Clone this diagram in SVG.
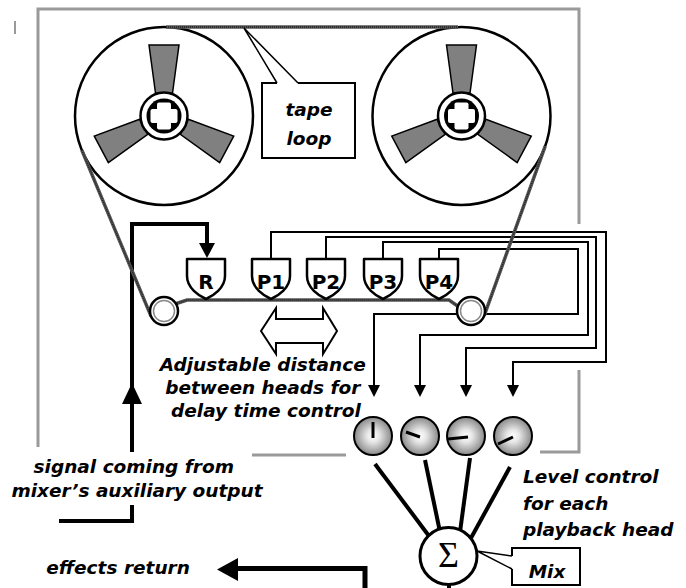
<svg xmlns="http://www.w3.org/2000/svg" width="686" height="588" viewBox="0 0 686 588">
  <style>
    .frame { fill: none; stroke: #9a9a9a; stroke-width: 3; }
    .reel { fill: #fff; stroke: #000; stroke-width: 2.5; }
    .spoke { fill: #808080; stroke: #000; stroke-width: 1.5; stroke-linejoin: miter; }
    .hub { fill: #fff; stroke: #000; stroke-width: 2.5; }
    .tape { fill: none; stroke: #555; stroke-width: 3.5; }
    .tape-grain { fill: none; stroke: #222; stroke-width: 1.5; stroke-dasharray: 1 1; }
    .roller { fill: #fff; stroke: #000; stroke-width: 2.5; }
    .roller-in { fill: none; stroke: #8a8a8a; stroke-width: 1.5; }
    .head { fill: #fff; stroke: #000; stroke-width: 2.5; stroke-linejoin: round; }
    .headtxt { font-family: "DejaVu Sans", sans-serif; font-weight: bold; font-size: 20px; text-anchor: middle; fill: #000; }
    .wire { fill: none; stroke: #000; stroke-width: 2; }
    .thick { fill: none; stroke: #000; stroke-width: 4; }
    .knob { fill: url(#knobFill); stroke: #000; stroke-width: 2; }
    .needle { stroke: #000; stroke-width: 3; stroke-linecap: butt; }
    .box { fill: #fff; stroke: #000; stroke-width: 2; }
    .callout { fill: none; stroke: #000; stroke-width: 1.5; }
    .lbl { font-family: "DejaVu Sans", "Liberation Sans", sans-serif; font-weight: bold; font-style: italic; font-size: 18.5px; fill: #000; }
  </style>
  <defs>
    <radialGradient id="knobFill" cx="50%" cy="50%" r="55%">
      <stop offset="0" stop-color="#ffffff"/>
      <stop offset="0.3" stop-color="#e6e6e6"/>
      <stop offset="1" stop-color="#7a7a7a"/>
    </radialGradient>
    <marker id="wireArrow" markerUnits="userSpaceOnUse" markerWidth="12" markerHeight="12" viewBox="0 0 12 12" refX="0" refY="6" orient="auto">
      <path d="M0,0 L12,6 L0,12 Z" fill="#000"/>
    </marker>
    <polygon id="spoke" class="spoke" points="-8.5,-23 -15,-71 15,-71 8.5,-23"/>
    <g id="reelBody">
      <circle class="reel" r="89"/>
      <use href="#spoke"/>
      <use href="#spoke" transform="rotate(118)"/>
      <use href="#spoke" transform="rotate(242)"/>
      <circle class="hub" r="23.5"/>
      <circle r="17.5" fill="#000"/>
      <rect x="-13.5" y="-7" width="27" height="14" rx="2" fill="#fff"/>
      <rect x="-7" y="-13.5" width="14" height="27" rx="2" fill="#fff"/>
    </g>
    <path id="headShape" class="head" d="M0,0 H38 V17 C38,29 26,37 19,40 C12,37 0,29 0,17 Z"/>
    <path id="tapeRun" d="M166,27 H458 M81.8,150.2 L151.1,316.4 M175,304 L187,300 H449 L459,307 M484.2,315.7 L545.2,146.2"/>
  </defs>

  <rect width="686" height="588" fill="#fff"/>

  <!-- housing outline -->
  <g id="housing">
    <path class="frame" d="M38,447 V9 H579 V224 M579,370 V452 H540 M346,455 H252"/>
    <line x1="15" y1="21" x2="15" y2="34" stroke="#9a9a9a" stroke-width="2"/>
  </g>

  <!-- reels -->
  <g id="reel-left"><use href="#reelBody" transform="translate(164,116)"/></g>
  <g id="reel-right"><use href="#reelBody" transform="translate(461.5,116)"/></g>

  <!-- connectors -->
  <g id="connectors">
    <!-- record input -->
    <path class="thick" d="M59,521 H132 V505"/>
    <path class="thick" d="M132,452 V224 H207 V246"/>
    <polygon points="199,243 215,243 207,258" fill="#000"/>
    <polygon points="122,404 142,404 132,383" fill="#000"/>
    <!-- playback heads to level controls -->
    <path class="wire" d="M271,259 V232 H606 V362 H513 V385" marker-end="url(#wireArrow)"/>
    <path class="wire" d="M326,259 V237 H596 V348 H466 V385" marker-end="url(#wireArrow)"/>
    <path class="wire" d="M383,259 V242 H588 V335 H420 V385" marker-end="url(#wireArrow)"/>
    <path class="wire" d="M439,259 V249 H578 V314 H374 V385" marker-end="url(#wireArrow)"/>
    <!-- level controls to mixer -->
    <line class="thick" x1="375" y1="464" x2="429" y2="536" stroke-width="3.5"/>
    <line class="thick" x1="425" y1="460" x2="440" y2="532" stroke-width="3.5"/>
    <line class="thick" x1="470" y1="458" x2="460" y2="532" stroke-width="3.5"/>
    <line class="thick" x1="510" y1="467" x2="471" y2="538" stroke-width="3.5"/>
    <!-- mixer output / effects return -->
    <line class="thick" x1="449" y1="583" x2="449" y2="588"/>
    <path d="M236,568.5 H365 V588" fill="none" stroke="#000" stroke-width="5"/>
    <polygon points="238,558 238,581 217,569.5" fill="#000"/>
  </g>

  <!-- tape path -->
  <g id="tape">
    <use href="#tapeRun" class="tape"/>
    <use href="#tapeRun" class="tape-grain"/>
  </g>

  <!-- guide rollers -->
  <g id="roller-left">
    <circle class="roller" cx="164" cy="311" r="14"/>
    <circle class="roller-in" cx="164" cy="311" r="10.5"/>
  </g>
  <g id="roller-right">
    <circle class="roller" cx="471" cy="311" r="14"/>
    <circle class="roller-in" cx="471" cy="311" r="10.5"/>
  </g>

  <!-- heads -->
  <g id="head-R"><use href="#headShape" x="187" y="259"/><text class="headtxt" x="206" y="289">R</text></g>
  <g id="head-P1"><use href="#headShape" x="252" y="259"/><text class="headtxt" x="271" y="289">P1</text></g>
  <g id="head-P2"><use href="#headShape" x="307" y="259"/><text class="headtxt" x="326" y="289">P2</text></g>
  <g id="head-P3"><use href="#headShape" x="364" y="259"/><text class="headtxt" x="383" y="289">P3</text></g>
  <g id="head-P4"><use href="#headShape" x="420" y="259"/><text class="headtxt" x="439" y="289">P4</text></g>

  <!-- adjustable spacing arrow -->
  <g id="spacing-arrow">
    <polygon points="261,331 276,308 276,319 323,319 323,308 337,331 323,354 323,343 276,343 276,354" fill="#fff" stroke="#000" stroke-width="2" stroke-linejoin="miter"/>
  </g>

  <!-- level controls -->
  <g id="knob-1"><circle class="knob" cx="373" cy="436" r="19"/><line class="needle" x1="373" y1="438" x2="373" y2="422"/></g>
  <g id="knob-2"><circle class="knob" cx="420" cy="436" r="19"/><line class="needle" x1="420" y1="437" x2="406" y2="432"/></g>
  <g id="knob-3"><circle class="knob" cx="466" cy="436" r="19"/><line class="needle" x1="468" y1="437" x2="448" y2="439"/></g>
  <g id="knob-4"><circle class="knob" cx="513" cy="436" r="19"/><line class="needle" x1="513" y1="437" x2="498" y2="444"/></g>

  <!-- mixer -->
  <g id="mixer">
    <circle cx="448.5" cy="556" r="28.5" fill="#fff" stroke="#000" stroke-width="3"/>
    <text x="448.5" y="567" font-family="Liberation Serif, serif" font-size="36" text-anchor="middle">Σ</text>
  </g>

  <!-- callouts -->
  <g id="tape-loop-label">
    <path class="box" d="M277,83 H262 V158 H355 V83 H298"/>
    <path class="callout" d="M277,83 L244,28 L298,83"/>
    <text class="lbl" x="309" y="116" text-anchor="middle" font-size="20">tape</text>
    <text class="lbl" x="309" y="145" text-anchor="middle" font-size="20">loop</text>
  </g>
  <g id="mix-label">
    <path class="box" d="M512,556 V548 H580 V585 H512 V569"/>
    <path class="callout" d="M512,556 L477,551 L512,569"/>
    <text class="lbl" x="547" y="578" text-anchor="middle" font-size="20">Mix</text>
  </g>

  <!-- labels -->
  <g id="labels">
    <text class="lbl" font-size="16.3" text-anchor="middle">
      <tspan x="266" y="371">Adjustable distance</tspan>
      <tspan x="266" y="394">between heads for</tspan>
      <tspan x="266" y="417">delay time control</tspan>
    </text>
    <text class="lbl" text-anchor="middle">
      <tspan x="137" y="473">signal coming from</tspan>
      <tspan x="137" y="497">mixer’s auxiliary output</tspan>
    </text>
    <text class="lbl" x="118" y="574" text-anchor="middle" font-size="18.3">effects return</text>
    <text class="lbl" font-size="18.4">
      <tspan x="523" y="483">Level control</tspan>
      <tspan x="523" y="510">for each</tspan>
      <tspan x="523" y="536">playback head</tspan>
    </text>
  </g>
</svg>
